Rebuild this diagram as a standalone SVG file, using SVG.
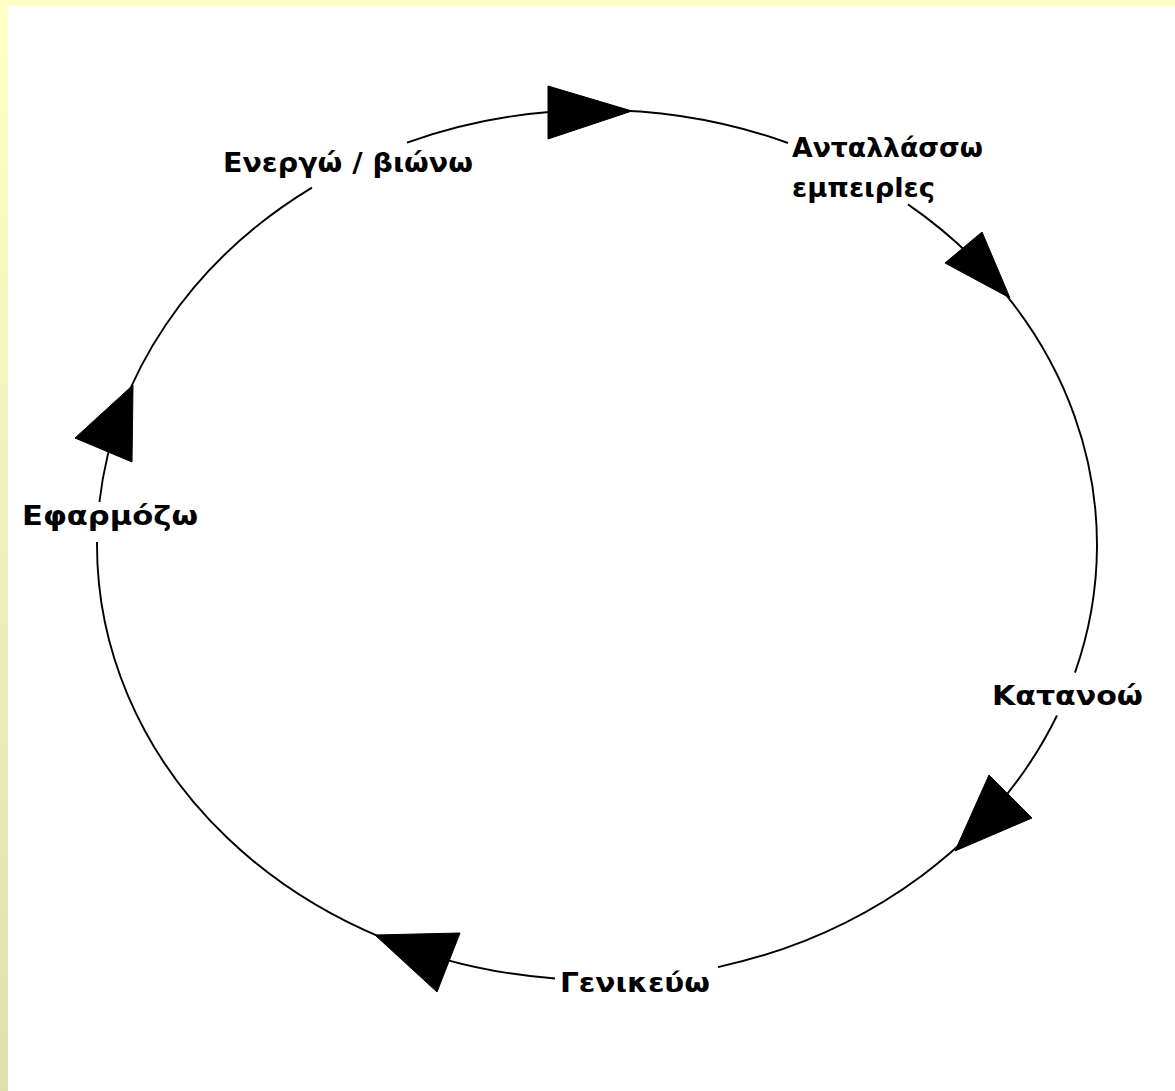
<svg xmlns="http://www.w3.org/2000/svg" width="1175" height="1091" viewBox="0 0 1175 1091">
  <defs>
    <linearGradient id="strip" x1="0" y1="0" x2="0" y2="1">
      <stop offset="0" stop-color="#FFFFC8"/>
      <stop offset="1" stop-color="#E0DFB0"/>
    </linearGradient>
    <style>
      .lbl { font-family: "DejaVu Sans", "Liberation Sans", sans-serif; font-weight: bold; font-size: 26px; fill: #000; }
      .arc { fill: none; stroke: #000; stroke-width: 1.9; }
      .head { fill: #000; stroke: #000; stroke-width: 1; stroke-linejoin: miter; }
    </style>
  </defs>
  <rect x="0" y="0" width="1175" height="1091" fill="#FFFFFF"/>
  <rect x="0" y="0" width="1175" height="6" fill="#FFFFC8"/>
  <rect x="0" y="0" width="8" height="1091" fill="url(#strip)"/>

  <g id="connectors">
    <path class="arc" d="M407,142.63 A500,435 0 0 1 788,142.99"/>
    <path class="arc" d="M908,204.39 A500,435 0 0 1 1075,672.6"/>
    <path class="arc" d="M1057,715.5 A500,435 0 0 1 718,967.07"/>
    <path class="arc" d="M555,978.46 A500,435 0 0 1 97.01,542"/>
    <path class="arc" d="M99.45,502 A500,435 0 0 1 312,187.59"/>
    <polygon class="head" points="548,86 548,139 632,111"/>
    <polygon class="head" points="982,232 945,263 1010,298"/>
    <polygon class="head" points="989,775 1032,818 955,851"/>
    <polygon class="head" points="460,933 437,992 375,935"/>
    <polygon class="head" points="75,438 132,462 133,385"/>
  </g>

  <g id="node-energo">
    <text class="lbl" x="223" y="172" textLength="250" lengthAdjust="spacingAndGlyphs">Ενεργώ / βιώνω</text>
  </g>
  <g id="node-antallasso">
    <text class="lbl" x="792" y="157" textLength="191" lengthAdjust="spacingAndGlyphs">Ανταλλάσσω</text>
    <text class="lbl" x="792" y="197" textLength="143" lengthAdjust="spacingAndGlyphs">εμπειρlες</text>
  </g>
  <g id="node-katanoo">
    <text class="lbl" x="992" y="705" textLength="151" lengthAdjust="spacingAndGlyphs">Κατανοώ</text>
  </g>
  <g id="node-genikevo">
    <text class="lbl" x="560" y="992" textLength="150" lengthAdjust="spacingAndGlyphs">Γενικεύω</text>
  </g>
  <g id="node-efarmozo">
    <text class="lbl" x="22" y="525" textLength="176" lengthAdjust="spacingAndGlyphs">Εφαρμόζω</text>
  </g>
</svg>
